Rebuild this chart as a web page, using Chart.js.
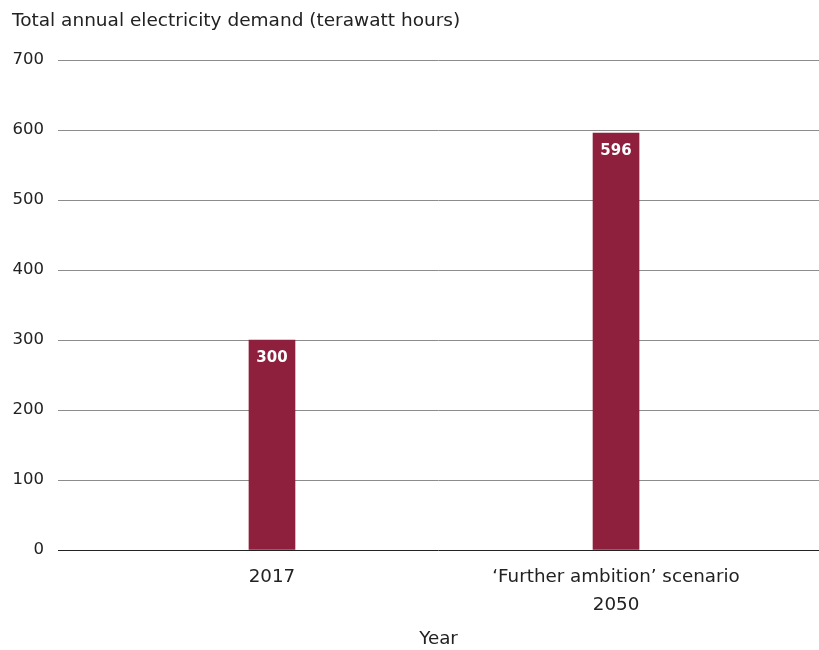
<!DOCTYPE html>
<html>
<head>
<meta charset="utf-8">
<script src="https://cdn.jsdelivr.net/npm/chart.js@4"></script>
<style>
  body { margin: 0; background: #fff; }
  #wrap { width: 819px; height: 650px; }
</style>
</head>
<body>
<div id="wrap"><canvas id="myChart"></canvas></div>
<script>
const categories = ['2017', ['\u2018Further ambition\u2019 scenario', '2050']];
const demandTWh = [300, 596];
const yTicks = [0, 100, 200, 300, 400, 500, 600, 700];

const barColor = '#8e1f3d';
const fontFamily = '"DejaVu Sans", sans-serif';

// value labels inside the top of each bar
const barLabels = {
    id: 'barLabels',
    afterDatasetsDraw(chart) {
        const ctx = chart.ctx;
        const meta = chart.getDatasetMeta(0);
        ctx.save();
        ctx.fillStyle = '#fff';
        ctx.font = 'bold 15px ' + fontFamily;
        ctx.textAlign = 'center';
        ctx.textBaseline = 'middle';
        meta.data.forEach((bar, i) => {
            ctx.fillText(String(demandTWh[i]), bar.x, bar.y + 18);
        });
        ctx.restore();
    }
};

const ctx = document.getElementById('myChart');
new Chart(ctx, {
    type: 'bar',
    data: {
        datasets: [{
            label: 'Total annual electricity demand',
            data: demandTWh.map((v, i) => ({ x: i, y: v })),
            backgroundColor: barColor,
            borderWidth: 0,
            barThickness: 46
        }]
    },
    options: {
        responsive: true,
        maintainAspectRatio: false,
        animation: false,
        layout: { padding: { left: 12, right: 0, top: 10, bottom: 0 } },
        plugins: {
            legend: { display: false },
            tooltip: { enabled: false },
            title: {
                display: true,
                text: 'Total annual electricity demand (terawatt hours)',
                align: 'start',
                color: '#222',
                font: { family: fontFamily, size: 18.5, weight: 'normal' },
                padding: { top: 0, bottom: 28 }
            }
        },
        scales: {
            x: {
                type: 'linear',
                offset: false,
                min: -0.622,
                max: 1.59,
                afterBuildTicks(scale) {
                    scale.ticks = categories.map((c, i) => ({ value: i }));
                },
                grid: { display: false, drawTicks: false, offset: false },
                border: { display: false },
                ticks: {
                    color: '#222',
                    padding: 13,
                    font: { family: fontFamily, size: 18.3, lineHeight: '28px' },
                    maxRotation: 0,
                    callback: (v) => categories[v]
                },
                title: {
                    display: true,
                    text: 'Year',
                    color: '#222',
                    font: { family: fontFamily, size: 18.3 },
                    padding: { top: -4, bottom: 0 }
                }
            },
            y: {
                min: 0,
                max: 700,
                afterBuildTicks(scale) {
                    scale.ticks = yTicks.map(v => ({ value: v }));
                },
                afterFit(scale) {
                    scale.width = 46;
                },
                grid: {
                    drawTicks: false,
                    color: (c) => c.tick && c.tick.value === 0 ? '#222' : '#8c8c8c',
                    lineWidth: 1
                },
                border: { display: false },
                ticks: {
                    color: '#222',
                    padding: 14,
                    font: { family: fontFamily, size: 16.5 }
                }
            }
        }
    },
    plugins: [barLabels]
});
</script>
</body>
</html>
